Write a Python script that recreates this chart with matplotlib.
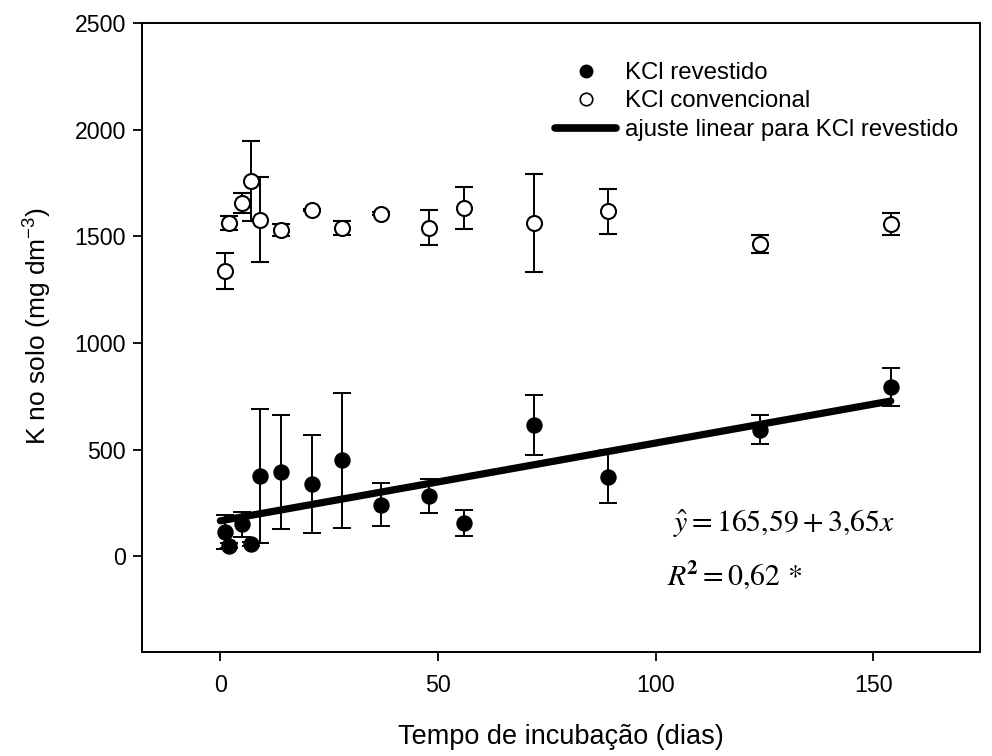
import matplotlib
matplotlib.use('Agg')
import matplotlib.pyplot as plt
import numpy as np
from matplotlib.lines import Line2D

# ---- data ----
days = [1, 2, 5, 7, 9, 14, 21, 28, 37, 48, 56, 72, 89, 124, 154]
k_coated = [114, 48, 150, 56, 376, 395, 338, 450, 241, 283, 153, 614, 372, 594, 794]
k_coated_err = [80, 12, 59, 10, 314, 266, 229, 316, 100, 81, 61, 140, 125, 70, 88]
k_conv = [1336, 1563, 1658, 1760, 1579, 1528, 1625, 1539, 1607, 1541, 1633, 1564, 1617, 1463, 1560]
k_conv_err = [85, 35, 47, 186, 200, 28, 6, 33, 6, 83, 97, 230, 106, 43, 52]

fit_intercept = 165.59
fit_slope = 3.65
fit_x_range = [0, 154]

x_ticks = [0, 50, 100, 150]
y_ticks = [0, 500, 1000, 1500, 2000, 2500]

legend_labels = ['KCl revestido', 'KCl convencional', 'ajuste linear para KCl revestido']

plt.rcParams['font.family'] = ['Liberation Sans', 'DejaVu Sans']
plt.rcParams['mathtext.fontset'] = 'custom'
plt.rcParams['mathtext.rm'] = 'Liberation Sans'
plt.rcParams['mathtext.it'] = 'Liberation Sans:italic'

fig = plt.figure(figsize=(9.92, 7.56), dpi=100)
ax = fig.add_axes([142/992, 1-652/756, (980-142)/992, (652-23.3)/756])

ms = 10.8
ax.errorbar(days, k_coated, yerr=k_coated_err, fmt='o', color='black',
            mfc='black', mec='black', ms=ms, capsize=6.2, elinewidth=1.4,
            capthick=1.4, zorder=3)
ax.errorbar(days, k_conv, yerr=k_conv_err, fmt='o', color='black',
            mfc='white', mec='black', mew=1.5, ms=ms, capsize=6.2,
            elinewidth=1.4, capthick=1.4, zorder=3)

fx = np.array(fit_x_range, dtype=float)
ax.plot(fx, fit_intercept + fit_slope * fx, color='black', lw=5.2,
        solid_capstyle='round', zorder=4)

ax.set_xlim(-18, 174.5)
ax.set_ylim(-450, 2500)
ax.set_xticks(x_ticks)
ax.set_yticks(y_ticks)
ax.tick_params(axis='x', direction='out', length=6.5, width=1.3,
               labelsize=16.7, pad=9, top=False)
ax.tick_params(axis='y', direction='out', length=6.5, width=1.3,
               labelsize=16.7, pad=5, right=False)
for s in ax.spines.values():
    s.set_linewidth(1.4)

ax.set_xlabel('Tempo de incubação (dias)', fontsize=19.5, labelpad=20)
ax.set_ylabel('K no solo (mg dm$^{-3}$)', fontsize=19)
ax.yaxis.set_label_coords((54 - 142) / 838, 0.518)

handles = [
    Line2D([], [], ls='none', marker='o', mfc='black', mec='black', ms=9),
    Line2D([], [], ls='none', marker='o', mfc='white', mec='black', mew=1.2, ms=9),
    Line2D([], [], color='black', lw=5.5, solid_capstyle='round'),
]
leg = ax.legend(handles, legend_labels, loc='upper left',
                bbox_to_anchor=(555/992, 1-62/756), bbox_transform=fig.transFigure,
                frameon=False, fontsize=17.3, handlelength=2.55, handletextpad=0.35,
                labelspacing=0.27, borderpad=0, borderaxespad=0)

ax.text(104, 155, r'$\hat{y} = 165{,}59 + 3{,}65x$', fontsize=21.5,
        math_fontfamily='stix', va='center', ha='left')
ax.text(102.5, -88, r'$R\mathbf{^{2}} = 0{,}62\,*$', fontsize=21.5,
        math_fontfamily='stix', va='center', ha='left')

fig.savefig('out.png', dpi=100)
